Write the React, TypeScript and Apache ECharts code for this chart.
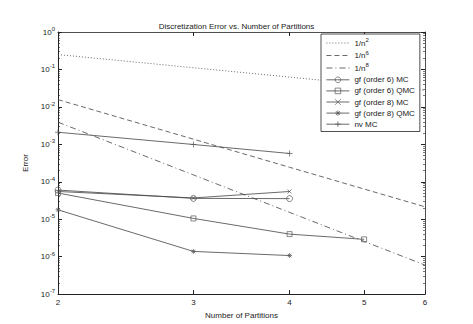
import React, { useEffect, useRef } from "react";
import * as echarts from "echarts";

const partitions = [2, 3, 4, 5, 6];
const invN2 = [0.25, 0.1111, 0.0625, 0.04, 0.02778];
const invN6 = [0.015625, 1.372e-3, 2.441e-4, 6.4e-5, 2.143e-5];
const invN8 = [3.906e-3, 1.524e-4, 1.526e-5, 2.56e-6, 5.954e-7];
const gf6MC = [6.0e-5, 3.6e-5, 3.55e-5];
const gf6QMC = [5.0e-5, 1.05e-5, 4.0e-6, 2.9e-6];
const gf8MC = [5.5e-5, 3.7e-5, 5.5e-5];
const gf8QMC = [1.78e-5, 1.38e-6, 1.07e-6];
const nvMC = [2.1e-3, 9.9e-4, 5.7e-4];
const xTicks = [2, 3, 4, 5, 6];
const yMinorTicks: number[] = [];
for (let e = -7; e < 0; e++) {
  for (let m = 2; m <= 9; m++) yMinorTicks.push(m * Math.pow(10, e));
}

const FONT = "Liberation Sans, Arial, sans-serif";
const FS = 8;
const TXT = "#222";
const LINE = "#444";
const MARK = "#555";

const pair = (vals: number[]) => vals.map((v, i) => [partitions[i], v]);

const X_PATH = "path://M0,0L10,10M10,0L0,10";
const PLUS_PATH = "path://M5,0L5,10M0,5L10,5";
const STAR_PATH = "path://M5,0L5,10M0,5L10,5M1.5,1.5L8.5,8.5M8.5,1.5L1.5,8.5";

const supRich = {
  b: { fontSize: FS, lineHeight: 9, color: TXT, fontFamily: FONT },
  s: { fontSize: 6, lineHeight: 12, verticalAlign: "top", color: TXT, fontFamily: FONT },
  n: { fontSize: FS, lineHeight: 9, color: TXT, fontFamily: FONT },
};

export default function App() {
  const ref = useRef<HTMLDivElement>(null);
  useEffect(() => {
    if (!ref.current) return;
    const chart = echarts.init(ref.current, undefined, { renderer: "svg" });
    const lineSeries = (
      name: string,
      data: number[],
      type: any,
      symbol: string,
      symbolSize: number
    ) => ({
      name,
      type: "line",
      data: pair(data),
      symbol,
      symbolSize,
      showSymbol: symbol !== "none",
      lineStyle: { color: LINE, width: 0.8, type },
      itemStyle: { color: "none", borderColor: MARK, borderWidth: 0.7 },
      emphasis: { disabled: true },
      z: 3,
    });
    const yBase = {
      type: "log",
      min: 1e-7,
      max: 1,
      logBase: 10,
      splitLine: { show: false },
    };
    const xBase = {
      type: "log",
      min: 2,
      max: 6,
      logBase: 10,
      splitLine: { show: false },
    };
    const seriesNames = [
      "1/n^2",
      "1/n^6",
      "1/n^8",
      "gf (order 6) MC",
      "gf (order 6) QMC",
      "gf (order 8) MC",
      "gf (order 8) QMC",
      "nv MC",
    ];
    chart.setOption({
      animation: false,
      backgroundColor: "#fff",
      title: {
        text: "Discretization Error vs. Number of Partitions",
        left: "center",
        top: 17,
        textStyle: { fontSize: FS, fontWeight: "normal", color: TXT, fontFamily: FONT },
      },
      grid: { left: 58, right: 48, top: 32, bottom: 29 },
      legend: {
        left: 321,
        top: 34,
        orient: "vertical",
        backgroundColor: "#fff",
        borderColor: "#222",
        borderWidth: 0.8,
        borderRadius: 0,
        padding: [3, 5, 2, 5],
        itemWidth: 23,
        itemHeight: 7,
        itemGap: 0.5,
        selectedMode: false,
        data: seriesNames.map((n, i) =>
          i < 3 ? { name: n, itemStyle: { opacity: 0 } } : { name: n }
        ),
        lineStyle: { width: 0.8 },
        itemStyle: { borderWidth: 0.7 },
        formatter: (name: string) => {
          const m = name.match(/^1\/n\^(\d)$/);
          return m ? `{b|1/n}{s|${m[1]}}` : `{n|${name}}`;
        },
        textStyle: {
          fontSize: FS,
          lineHeight: 9,
          color: TXT,
          fontFamily: FONT,
          rich: supRich,
        },
      },
      xAxis: [
        {
          ...xBase,
          position: "bottom",
          name: "Number of Partitions",
          nameLocation: "middle",
          nameGap: 13,
          nameTextStyle: { fontSize: FS, color: TXT, fontFamily: FONT },
          axisLine: { show: true, lineStyle: { color: "#222", width: 1 } },
          axisTick: { show: true, inside: true, length: 4, customValues: xTicks, lineStyle: { color: "#222" } },
          axisLabel: {
            customValues: xTicks,
            margin: 4,
            fontSize: FS,
            color: TXT,
            fontFamily: FONT,
            formatter: (v: number) => String(Math.round(v)),
          },
        },
        {
          ...xBase,
          position: "top",
          axisLine: { show: true, lineStyle: { color: "#222", width: 0.8 } },
          axisTick: { show: true, inside: true, length: 4, customValues: xTicks, lineStyle: { color: "#222" } },
          axisLabel: { show: false },
        },
      ],
      yAxis: [
        {
          ...yBase,
          position: "left",
          interval: 1,
          name: "Error",
          nameLocation: "middle",
          nameGap: 18,
          nameTextStyle: { fontSize: FS, color: TXT, fontFamily: FONT },
          axisLine: { show: true, lineStyle: { color: "#222", width: 1 } },
          axisTick: { show: true, inside: true, length: 4, lineStyle: { color: "#222" } },
          axisLabel: {
            margin: 3,
            formatter: (v: number) => `{b|10}{s|${Math.round(Math.log10(v))}}`,
            rich: supRich,
          },
        },
        {
          ...yBase,
          position: "right",
          interval: 1,
          axisLine: { show: true, lineStyle: { color: "#222", width: 0.8 } },
          axisTick: { show: true, inside: true, length: 4, lineStyle: { color: "#222" } },
          axisLabel: { show: false },
        },
        {
          ...yBase,
          position: "left",
          axisLine: { show: false },
          axisTick: { show: true, inside: true, length: 2, customValues: yMinorTicks, lineStyle: { color: "#222", width: 0.6 } },
          axisLabel: { show: false },
        },
        {
          ...yBase,
          position: "right",
          axisLine: { show: false },
          axisTick: { show: true, inside: true, length: 2, customValues: yMinorTicks, lineStyle: { color: "#222", width: 0.6 } },
          axisLabel: { show: false },
        },
      ],
      series: [
        lineSeries(seriesNames[0], invN2, [1, 2], "none", 0),
        lineSeries(seriesNames[1], invN6, [5, 3], "none", 0),
        lineSeries(seriesNames[2], invN8, [6, 3, 1, 3], "none", 0),
        lineSeries(seriesNames[3], gf6MC, "solid", "circle", 6),
        lineSeries(seriesNames[4], gf6QMC, "solid", "rect", 5),
        lineSeries(seriesNames[5], gf8MC, "solid", X_PATH, 4),
        lineSeries(seriesNames[6], gf8QMC, "solid", STAR_PATH, 5),
        lineSeries(seriesNames[7], nvMC, "solid", PLUS_PATH, 6),
      ],
    });
    return () => chart.dispose();
  }, []);
  return <div ref={ref} style={{ width: 473, height: 324, marginLeft: -8, marginTop: -8 }} />;
}
